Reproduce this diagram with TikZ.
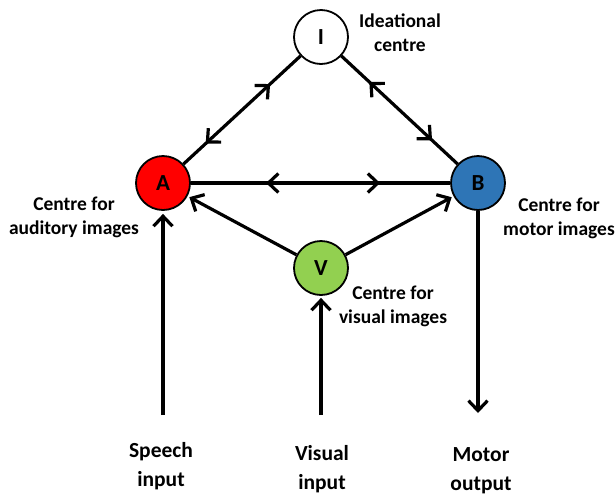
\documentclass[tikz,border=0pt]{standalone}
\usepackage{fontspec}
\setmainfont{Carlito}
\usetikzlibrary{arrows.meta,decorations.markings}

\definecolor{audred}{RGB}{255,0,0}
\definecolor{motblue}{RGB}{46,117,182}
\definecolor{visgreen}{RGB}{146,208,80}

\tikzset{every picture/.style={line width=3.2pt}}
\tikzset{
  centre/.style={circle, draw, line width=1.8pt, minimum size=54pt, inner sep=0pt,
    font=\bfseries\fontsize{23}{24}\selectfont},
  sidetext/.style={align=center, inner sep=0.75pt, font=\bfseries\fontsize{19.5}{24}\selectfont},
  foottext/.style={align=center, inner sep=0.75pt, font=\bfseries\fontsize{21.5}{29}\selectfont},
  barb/.style={-{Straight Barb[length=10pt,width=19pt]}},
  twoway/.style 2 args={postaction={decorate}, decoration={markings,
      mark=at position #1 with {\arrowreversed{Straight Barb[length=10pt,width=19pt]}},
      mark=at position #2 with {\arrow{Straight Barb[length=10pt,width=19pt]}}}}
}

\begin{document}
\begin{tikzpicture}[x=1pt,y=1pt,yscale=-1,xscale=1]
\useasboundingbox (0,0) rectangle (616,496);

%Shape: Circle [I]
\node [centre, fill=white] (I) at (321,37) {I};
%Shape: Circle [A]
\node [centre, fill=audred] (A) at (163,183) {A};
%Shape: Circle [B]
\node [centre, fill=motblue] (B) at (478,183) {B};
%Shape: Circle [V]
\node [centre, fill=visgreen] (V) at (321,268) {V};

%Free ends
\coordinate (speech) at (163,415);
\coordinate (visual) at (321,415);
\coordinate (motor) at (478,413);

%Straight Lines
\draw [twoway={0.19}{0.74}] (A) -- (I);
\draw [twoway={0.24}{0.78}] (I) -- (B);
\draw [twoway={0.29}{0.73}] (A) -- (B);
\draw [barb, shorten >=2pt] (V) -- (A);
\draw [barb, shorten >=2pt] (V) -- (B);
\draw [barb, shorten >=3pt] (speech) -- (A);
\draw [barb, shorten >=2pt] (visual) -- (V);
\draw [barb] (B) -- (motor);

% Text Node
\node [sidetext] (ideal) at (400,33) {Ideational\\centre};
% Text Node
\node [sidetext] (audlab) at (74,217) {Centre for\\auditory images};
% Text Node
\node [sidetext] (motlab) at (559,218) {Centre for\\motor images};
% Text Node
\node [sidetext] (vislab) at (393,306) {Centre for\\visual images};
% Text Node
\node [foottext] (speechlab) at (161,466) {Speech\\input};
% Text Node
\node [foottext] (visuallab) at (322,469) {Visual\\input};
% Text Node
\node [foottext] (motorlab) at (481,471) {Motor\\output};
\end{tikzpicture}
\end{document}
